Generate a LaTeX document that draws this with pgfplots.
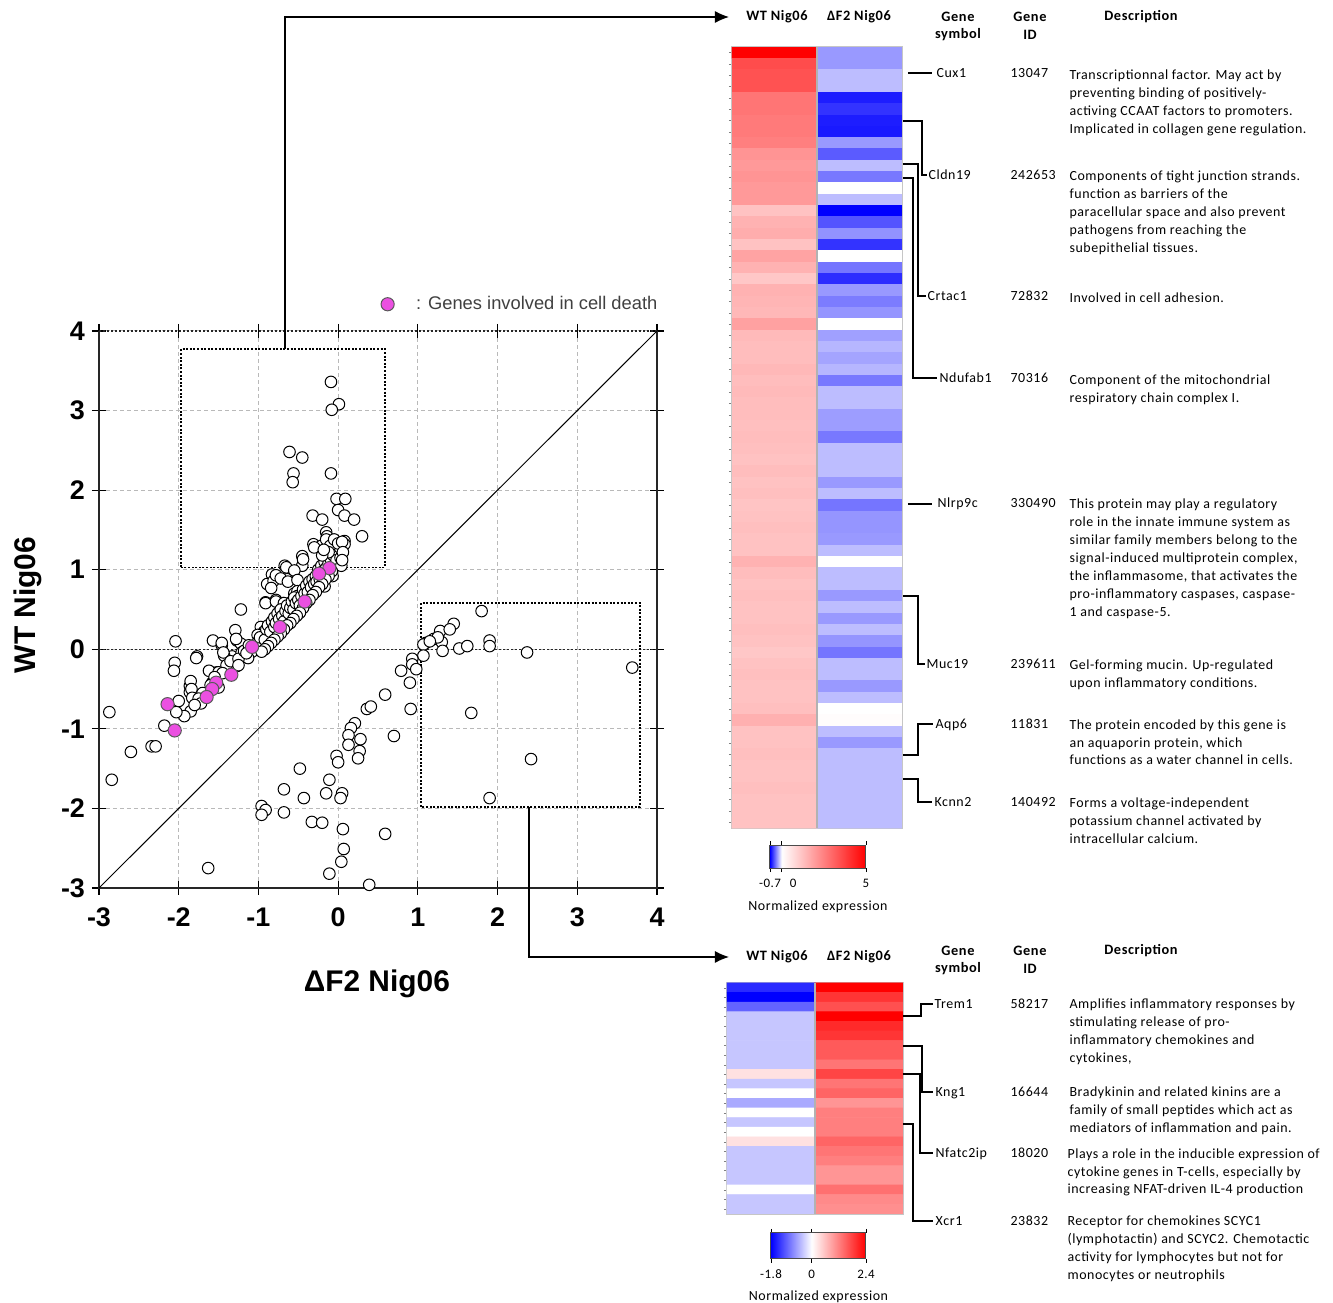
\documentclass[border=0pt]{standalone}
\usepackage{fontspec}
\setmainfont{Liberation Sans}
\newfontfamily\calf[LetterSpace=4]{Carlito}
\usepackage{pgfplots}
\pgfplotsset{compat=1.18}
\usetikzlibrary{arrows.meta}
\definecolor{mag}{RGB}{235,80,225}
\pgfplotsset{colormap={hmA}{rgb255(0pt)=(0,0,255) rgb255(7pt)=(255,255,255) rgb255(57pt)=(255,0,0)}}
\pgfplotsset{colormap={hmB}{rgb255(0pt)=(0,0,255) rgb255(18pt)=(255,255,255) rgb255(42pt)=(255,0,0)}}
\newcommand\fs[2]{\fontsize{#1}{#2}\selectfont}
\begin{document}
\begin{tikzpicture}
\path[use as bounding box] (0,0) rectangle (666.5bp,-651.5bp);
\begin{scope}[x=0.5bp,y=-0.5bp]
\coordinate (SC) at (99,888);
\coordinate (HA) at (732,47);
\coordinate (HB) at (727,983);
\end{scope}
% ---------------- scatter ----------------
\begin{axis}[at={(SC)}, anchor=south west, scale only axis, width=279bp, height=278.5bp,
  xmin=-3, xmax=4, ymin=-3, ymax=4,
  xtick={-3,...,4}, ytick={-3,...,4},
  xticklabels={-3,-2,-1,0,1,2,3,4}, yticklabels={-3,-2,-1,0,1,2,3,4},
  ticklabel style={font=\bfseries\fs{13.5}{13.5}},
  xticklabel style={yshift=-3bp},
  grid=major, major grid style={gray!55, dash pattern=on 2bp off 1.5bp, line width=0.5bp},
  separate axis lines, axis line style={draw=none},
  tick align=center, major tick length=7bp, tick style={black, line width=0.6bp},
  clip=false,
  xlabel={ΔF2 Nig06}, ylabel={WT Nig06},
  label style={font=\bfseries\fs{15}{15}},
  xlabel style={at={(axis description cs:0.498,-0.172)}, anchor=center},
  ylabel style={at={(axis description cs:-0.127,0.508)}, anchor=center},
  legend style={draw=none, fill=none, at={(0.494,1.048)}, anchor=west, font=\fs{9.2}{9.2}\color{black!75}},
  legend cell align=left]
\draw[black!85, line width=0.7bp] (axis cs:-3,4)--(axis cs:-3,-3)--(axis cs:4,-3)--(axis cs:4,4);
\draw[black!85, line width=0.7bp, dash pattern=on 1bp off 1bp] (axis cs:-3,4)--(axis cs:4,4);
\draw[black!85, line width=0.7bp, dash pattern=on 1bp off 1bp] (axis cs:-3,0)--(axis cs:4,0);
\addplot[black, line width=0.5bp, forget plot] coordinates {(-3,-3) (4,4)};
\draw[black, line width=0.8bp, dash pattern=on 1bp off 0.8bp] (axis cs:-1.97,1.03) rectangle (axis cs:0.59,3.77);
\draw[black, line width=0.8bp, dash pattern=on 1bp off 0.8bp] (axis cs:1.04,-1.98) rectangle (axis cs:3.79,0.58);
\coordinate (bA) at (axis cs:-0.666,3.77);
\coordinate (bB) at (axis cs:2.395,-1.98);
\addplot[only marks, mark=*, mark size=2.9bp, mark options={fill=white, draw=black, line width=0.5bp}, forget plot] coordinates {
(-0.09,3.36) (0.01,3.08) (-0.08,3.01) (-0.61,2.48) (-0.45,2.41) (-0.56,2.21) (-0.57,2.10) (-0.09,2.21)
(-0.02,1.89) (0.09,1.89) (0.0,1.75) (0.08,1.68) (0.20,1.63) (-0.32,1.68) (-0.20,1.63) (-0.15,1.47)
(0.30,1.42) (0.08,1.36) (-0.31,1.32) (-0.45,1.17) (-0.67,1.05) (-0.45,1.05) (-0.83,0.94) (-0.64,0.88)
(-0.89,0.82) (-0.81,0.86) (-0.07,0.92) (-0.19,0.82) (-1.22,0.50) (-0.91,0.59) (-0.78,0.62) (-0.69,0.58)
(-0.56,0.47) (-0.55,0.70) (-0.35,0.74)
(-0.14,1.42) (0.08,1.32) (-0.21,1.30) (-0.30,1.28) (-0.06,1.28) (0.0,1.20) (0.04,1.13) (-0.13,1.13)
(-0.04,1.05) (-0.44,1.13) (-0.65,1.03) (-0.55,0.99) (-0.78,0.93) (-0.72,0.89) (-0.63,0.85) (-0.84,0.77)
(-0.51,0.87) (-0.40,0.77) (-0.30,0.77) (-0.19,0.83) (-0.17,0.79) (-0.51,0.73) (-0.51,0.67) (-0.91,0.58)
(-0.78,0.60) (-0.68,0.58) (-0.55,0.44) (-0.63,0.40) (-0.72,0.36) (-0.80,0.34) (-0.89,0.28) (-0.97,0.28)
(-0.84,0.20) (-0.93,0.22) (-1.01,0.18) (-0.95,0.11) (-1.29,0.24) (-1.57,0.11) (-1.46,0.05) (-1.27,0.11)
(-1.22,0.07) (-1.14,-0.05) (-1.08,-0.03) (-0.97,0.01) (-1.18,-0.09) (-1.33,-0.09) (-1.43,-0.08) (-1.77,-0.09)
(-1.27,-0.21) (-1.52,-0.29) (-1.58,-0.42) (-1.86,-0.46) (-1.86,-0.54) (-1.79,-0.64)
(-1.05,0.05) (-1.0,0.10) (-0.98,0.15) (-0.92,0.12) (-0.90,0.25) (-0.88,0.30) (-0.85,0.22) (-0.83,0.35)
(-0.80,0.28) (-0.80,0.40) (-0.78,0.33) (-0.76,0.45) (-0.74,0.38) (-0.72,0.50) (-0.70,0.42) (-0.68,0.35)
(-0.66,0.48) (-0.64,0.55) (-0.62,0.45) (-0.60,0.52) (-0.58,0.60) (-0.56,0.50) (-0.55,0.65) (-0.53,0.58)
(-0.50,0.62) (-0.48,0.55) (-0.46,0.67) (-0.44,0.75) (-0.42,0.70) (-0.40,0.80) (-0.38,0.72) (-0.36,0.85)
(-0.34,0.78) (-0.32,0.88) (-0.30,0.82) (-0.28,0.92) (-0.27,0.85) (-0.25,1.00) (-0.23,0.88) (-0.21,1.05)
(-0.19,0.98) (-0.17,1.10) (-0.15,1.02) (-0.13,1.15) (-0.12,1.08) (-0.10,1.20) (-0.09,1.12) (-0.07,1.25)
(-0.06,1.18) (-0.05,1.05) (-0.04,1.30) (-0.03,1.22) (-0.02,1.12) (0.02,1.28) (0.03,1.15) (0.04,1.05)
(-0.08,0.98) (-0.12,0.92) (-0.16,0.88) (-0.20,0.82) (-0.24,0.78) (-0.28,0.72) (-0.32,0.68) (-0.36,0.62)
(-0.40,0.58) (-0.44,0.52) (-0.48,0.46) (-0.52,0.42) (-0.56,0.38) (-0.60,0.33) (-0.64,0.30) (-0.68,0.25)
(-0.72,0.20) (-0.76,0.16) (-0.80,0.12) (-0.84,0.08) (-0.88,0.04) (-0.92,0.0) (-0.96,-0.03)
(-0.15,1.38) (-0.10,1.30) (-0.05,1.38) (0.0,1.33) (0.05,1.35) (-0.12,1.22) (0.06,1.22) (0.05,1.12)
(-0.20,1.18) (-0.18,1.25)
(-2.04,0.10) (-1.46,0.08) (-1.44,-0.04) (-1.28,0.13) (-1.21,-0.04) (-1.13,-0.11) (-2.05,-0.17) (-2.06,-0.27)
(-1.78,-0.11) (-1.62,-0.27) (-1.50,-0.29) (-1.85,-0.40) (-1.84,-0.50) (-1.83,-0.61) (-1.50,-0.48) (-2.0,-0.65)
(-1.85,-0.78) (-1.93,-0.84) (-2.03,-0.79) (-2.87,-0.79) (-2.18,-0.96) (-2.60,-1.29) (-2.34,-1.22) (-2.29,-1.22)
(-2.84,-1.64) (-1.63,-2.75)
(-1.40,-0.20) (-1.35,-0.15) (-1.45,-0.30) (-1.55,-0.35) (-1.60,-0.45) (-1.70,-0.55) (-1.75,-0.62) (-1.72,-0.68)
(-1.80,-0.70) (-1.25,-0.12) (-1.18,-0.02) (-1.12,0.05) (-1.15,-0.05) (-1.25,-0.20)
(1.80,0.48) (1.45,0.32) (1.28,0.23) (1.10,0.08) (1.20,0.13) (1.30,0.09) (1.31,-0.02) (1.07,0.06)
(1.52,0.01) (1.62,0.04) (1.90,0.11) (1.90,0.04) (2.37,-0.04) (3.69,-0.23) (1.07,-0.08) (0.93,-0.12)
(0.93,-0.19) (0.98,-0.25) (0.79,-0.27) (0.90,-0.42) (0.59,-0.57) (0.36,-0.75) (0.41,-0.72) (0.91,-0.75)
(1.67,-0.80) (0.21,-0.93) (0.16,-0.99) (0.13,-1.08) (0.13,-1.20) (0.28,-1.13) (0.27,-1.28) (0.25,-1.37)
(0.70,-1.09) (2.42,-1.38) (-0.02,-1.34) (0.0,-1.42) (-0.48,-1.50) (-0.11,-1.64) (-0.68,-1.76) (-0.43,-1.87)
(-0.15,-1.81) (0.05,-1.81) (0.03,-1.87) (1.90,-1.87) (-0.96,-1.97) (-0.91,-2.02) (-0.96,-2.08) (-0.68,-2.05)
(-0.33,-2.17) (-0.20,-2.18) (0.06,-2.26) (0.59,-2.32) (0.07,-2.51) (0.04,-2.67) (-0.11,-2.82) (0.39,-2.96)
(1.40,0.25) (1.25,0.15) (1.15,0.10)
};
\addplot[only marks, mark=*, mark size=3.3bp, mark options={fill=mag, draw=black!65, line width=0.5bp}] coordinates {
(-0.11,1.02) (-0.24,0.95) (-0.42,0.60) (-0.73,0.28) (-1.08,0.03) (-1.34,-0.32) (-1.53,-0.42) (-1.58,-0.50)
(-1.65,-0.60) (-2.14,-0.69) (-2.05,-1.02)
};
\addlegendentry{\hspace*{9bp}: Genes involved in cell death}
\end{axis}
% ---------------- top heatmap ----------------
\begin{axis}[at={(HA)}, anchor=north west, scale only axis, width=85bp, height=390.5bp,
  xmin=-0.5, xmax=1.5, ymin=-0.5, ymax=68.5, y dir=reverse, enlargelimits=false,
  xtick=\empty, ytick={0,...,68}, yticklabels={}, tick pos=left, tick align=outside,
  major tick length=1.5bp, tick style={gray, line width=0.3bp},
  axis line style={gray!45, line width=0.6bp},
  colormap name=hmA, point meta min=-0.7, point meta max=5,
  colorbar horizontal,
  colorbar style={at={(parent axis.south west)}, anchor=north west, xshift=19bp, yshift=0bp,
    scale only axis, width=48bp, height=11.5bp, xtick={-0.7,0,5},
    xticklabels={-0.7,\makebox[0pt][l]{\hspace{4bp}0},5},
    ticklabel style={font=\calf\fs{6.5}{6.5}}, tick align=outside, major tick length=2bp,
    tick style={black, line width=0.4bp}, axis line style={black!70, line width=0.5bp},
    xlabel={Normalized expression}, xlabel style={font=\calf\fs{7}{7}, yshift=0bp}}]
\addplot[matrix plot*, mesh/cols=2, point meta=explicit] table[meta=c] {
x y c
0 0 5.0
1 0 -0.28
0 1 3.5
1 1 -0.28
0 2 3.4
1 2 -0.18
0 3 3.4
1 3 -0.18
0 4 2.7
1 4 -0.62
0 5 2.7
1 5 -0.56
0 6 2.6
1 6 -0.62
0 7 2.6
1 7 -0.63
0 8 2.5
1 8 -0.28
0 9 2.1
1 9 -0.45
0 10 2.0
1 10 -0.18
0 11 2.1
1 11 -0.37
0 12 2.0
1 12 0
0 13 2.0
1 13 -0.18
0 14 1.2
1 14 -0.70
0 15 1.5
1 15 -0.47
0 16 1.6
1 16 -0.30
0 17 1.2
1 17 -0.56
0 18 1.8
1 18 0
0 19 1.5
1 19 -0.38
0 20 1.1
1 20 -0.58
0 21 1.5
1 21 -0.28
0 22 1.45
1 22 -0.36
0 23 1.4
1 23 -0.29
0 24 1.85
1 24 0
0 25 1.35
1 25 -0.26
0 26 1.3
1 26 -0.20
0 27 1.3
1 27 -0.25
0 28 1.4
1 28 -0.20
0 29 1.3
1 29 -0.37
0 30 1.35
1 30 -0.18
0 31 1.3
1 31 -0.18
0 32 1.3
1 32 -0.27
0 33 1.25
1 33 -0.27
0 34 1.3
1 34 -0.37
0 35 1.25
1 35 -0.18
0 36 1.2
1 36 -0.18
0 37 1.3
1 37 -0.18
0 38 1.2
1 38 -0.28
0 39 1.25
1 39 -0.18
0 40 1.15
1 40 -0.38
0 41 1.2
1 41 -0.29
0 42 1.25
1 42 -0.29
0 43 1.2
1 43 -0.28
0 44 1.2
1 44 -0.18
0 45 1.5
1 45 0
0 46 1.3
1 46 -0.18
0 47 1.2
1 47 -0.18
0 48 1.25
1 48 -0.28
0 49 1.2
1 49 -0.18
0 50 1.2
1 50 -0.28
0 51 1.25
1 51 -0.18
0 52 1.2
1 52 -0.29
0 53 1.1
1 53 -0.38
0 54 1.2
1 54 -0.18
0 55 1.25
1 55 -0.18
0 56 1.2
1 56 -0.28
0 57 1.2
1 57 -0.18
0 58 1.25
1 58 0
0 59 1.55
1 59 0.05
0 60 1.2
1 60 -0.18
0 61 1.2
1 61 -0.28
0 62 1.25
1 62 -0.18
0 63 1.2
1 63 -0.18
0 64 1.2
1 64 -0.18
0 65 1.25
1 65 -0.18
0 66 1.2
1 66 -0.18
0 67 1.2
1 67 -0.18
0 68 1.2
1 68 -0.18
};
\draw[gray!60, line width=0.7bp] (axis cs:0.5,-0.5)--(axis cs:0.5,68.5);
\end{axis}
% ---------------- bottom heatmap ----------------
\begin{axis}[at={(HB)}, anchor=north west, scale only axis, width=88bp, height=115.5bp,
  xmin=-0.5, xmax=1.5, ymin=-0.5, ymax=23.5, y dir=reverse, enlargelimits=false,
  xtick=\empty, ytick={0,...,23}, yticklabels={}, tick pos=left, tick align=outside,
  major tick length=1.5bp, tick style={gray, line width=0.3bp},
  axis line style={gray!45, line width=0.6bp},
  colormap name=hmB, point meta min=-1.8, point meta max=2.4,
  colorbar horizontal,
  colorbar style={at={(parent axis.south west)}, anchor=north west, xshift=22bp, yshift=-1bp,
    scale only axis, width=47.5bp, height=13bp, xtick={-1.8,0,2.4},
    xticklabels={-1.8,0,2.4},
    ticklabel style={font=\calf\fs{6.5}{6.5}}, tick align=outside, major tick length=2bp,
    tick style={black, line width=0.4bp}, axis line style={black!70, line width=0.5bp},
    xlabel={Normalized expression}, xlabel style={font=\calf\fs{7}{7}, yshift=1bp}}]
\addplot[matrix plot*, mesh/cols=2, point meta=explicit] table[meta=c] {
x y c
0 0 -1.5
1 0 2.4
0 1 -1.8
1 1 1.9
0 2 -1.1
1 2 1.65
0 3 -0.4
1 3 2.4
0 4 -0.4
1 4 2.0
0 5 -0.4
1 5 1.9
0 6 -0.4
1 6 1.55
0 7 -0.4
1 7 1.55
0 8 -0.4
1 8 1.3
0 9 0.28
1 9 1.75
0 10 -0.4
1 10 1.3
0 11 0
1 11 1.45
0 12 -0.6
1 12 1.0
0 13 0
1 13 1.2
0 14 -0.4
1 14 1.2
0 15 0
1 15 1.2
0 16 0.28
1 16 1.45
0 17 -0.4
1 17 1.3
0 18 -0.4
1 18 1.2
0 19 -0.4
1 19 1.0
0 20 -0.4
1 20 1.0
0 21 0
1 21 1.35
0 22 -0.4
1 22 1.1
0 23 -0.4
1 23 1.05
};
\draw[gray!60, line width=0.7bp] (axis cs:0.5,-0.5)--(axis cs:0.5,23.5);
\end{axis}
% ---------------- annotations ----------------
\begin{scope}[x=0.5bp,y=-0.5bp, line width=0.6bp]
\draw[-{Latex[length=7bp,width=6bp]}] (bA) |- (729,17);
\draw[-{Latex[length=7bp,width=6bp]}] (bB) |- (729,957);
% headers
\begin{scope}[every node/.style={font=\calf\bfseries\fs{7.2}{7.2}, inner sep=0pt}]
\node at (777,17) {WT Nig06};
\node at (859,17) {ΔF2 Nig06};
\node at (958,17) {Gene}; \node at (958,35) {symbol};
\node at (1030,17) {Gene}; \node at (1030,35) {ID};
\node at (1141,17) {Description};
\node at (777,957) {WT Nig06};
\node at (859,957) {ΔF2 Nig06};
\node at (958,951) {Gene}; \node at (958,969) {symbol};
\node at (1030,951) {Gene}; \node at (1030,969) {ID};
\node at (1141,951) {Description};
\end{scope}
% brackets
\draw (908,73)--(932,73);
\draw (903,121)--(922,121)--(922,175)--(927,175);
\draw (903,164)--(918,164)--(918,296)--(926,296);
\draw (903,178)--(913,178)--(913,378)--(937,378);
\draw (908,504)--(932,504);
\draw (903,596)--(918,596)--(918,664)--(925,664);
\draw (903,755)--(918,755)--(918,724)--(933,724);
\draw (903,779)--(918,779)--(918,802)--(932,802);
\draw (903,1016)--(921,1016)--(921,1004)--(933,1004);
\draw (903,1046)--(922,1046)--(922,1092)--(933,1092);
\draw (903,1074)--(920,1074)--(920,1153)--(933,1153);
\draw (903,1124)--(913,1124)--(913,1221)--(933,1221);
\begin{scope}[every node/.style={font=\calf\fs{7}{7}, inner sep=0pt, anchor=base west}]
% symbols (baseline = center + 4)
\node at (936,78) {Cux1};
\node at (928,180) {Cldn19};
\node at (927,301) {Crtac1};
\node at (939,383) {Ndufab1};
\node at (937,508) {Nlrp9c};
\node at (926,669) {Muc19};
\node at (935,729) {Aqp6};
\node at (934,807) {Kcnn2};
\node at (934,1009) {Trem1};
\node at (935,1097) {Kng1};
\node at (935,1158) {Nfatc2ip};
\node at (935,1226) {Xcr1};
% IDs
\node at (1010,78) {13047};
\node at (1010,180) {242653};
\node at (1010,301) {72832};
\node at (1010,383) {70316};
\node at (1010,508) {330490};
\node at (1010,669) {239611};
\node at (1010,729) {11831};
\node at (1010,807) {140492};
\node at (1010,1009) {58217};
\node at (1010,1097) {16644};
\node at (1010,1158) {18020};
\node at (1010,1226) {23832};
% descriptions
\node at (1069,80) {Transcriptionnal factor. May act by};
\node at (1069,98) {preventing binding of positively-};
\node at (1069,116) {activing CCAAT factors to promoters.};
\node at (1069,134) {Implicated in collagen gene regulation.};
\node at (1069,181) {Components of tight junction strands.};
\node at (1069,199) {function as barriers of the};
\node at (1069,217) {paracellular space and also prevent};
\node at (1069,235) {pathogens from reaching the};
\node at (1069,253) {subepithelial tissues.};
\node at (1069,303) {Involved in cell adhesion.};
\node at (1069,385) {Component of the mitochondrial};
\node at (1069,403) {respiratory chain complex I.};
\node at (1069,509) {This protein may play a regulatory};
\node at (1069,527) {role in the innate immune system as};
\node at (1069,545) {similar family members belong to the};
\node at (1069,563) {signal-induced multiprotein complex,};
\node at (1069,581) {the inflammasome, that activates the};
\node at (1069,599) {pro-inflammatory caspases, caspase-};
\node at (1069,617) {1 and caspase-5.};
\node at (1069,670) {Gel-forming mucin. Up-regulated};
\node at (1069,688) {upon inflammatory conditions.};
\node at (1069,730) {The protein encoded by this gene is};
\node at (1069,748) {an aquaporin protein, which};
\node at (1069,765) {functions as a water channel in cells.};
\node at (1069,808) {Forms a voltage-independent};
\node at (1069,826) {potassium channel activated by};
\node at (1069,844) {intracellular calcium.};
\node at (1069,1009) {Amplifies inflammatory responses by};
\node at (1069,1027) {stimulating release of pro-};
\node at (1069,1045) {inflammatory chemokines and};
\node at (1069,1063) {cytokines,};
\node at (1069,1097) {Bradykinin and related kinins are a};
\node at (1069,1115) {family of small peptides which act as};
\node at (1069,1133) {mediators of inflammation and pain.};
\node at (1067,1159) {Plays a role in the inducible expression of};
\node at (1067,1177) {cytokine genes in T-cells, especially by};
\node at (1067,1194) {increasing NFAT-driven IL-4 production};
\node at (1067,1226) {Receptor for chemokines SCYC1};
\node at (1067,1244) {(lymphotactin) and SCYC2. Chemotactic};
\node at (1067,1262) {activity for lymphocytes but not for};
\node at (1067,1280) {monocytes or neutrophils};
\end{scope}
\end{scope}
\end{tikzpicture}
\end{document}
